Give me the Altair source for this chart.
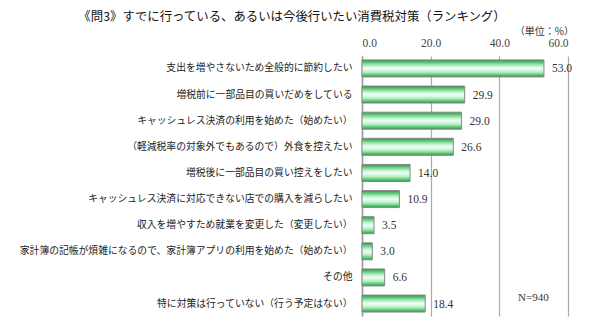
import altair as alt
import pandas as pd

categories = [
    "支出を増やさないため全般的に節約したい",
    "増税前に一部品目の買いだめをしている",
    "キャッシュレス決済の利用を始めた（始めたい）",
    "（軽減税率の対象外でもあるので）外食を控えたい",
    "増税後に一部品目の買い控えをしたい",
    "キャッシュレス決済に対応できない店での購入を減らしたい",
    "収入を増やすため就業を変更した（変更したい）",
    "家計簿の記帳が煩雑になるので、家計簿アプリの利用を始めた（始めたい）",
    "その他",
    "特に対策は行っていない（行う予定はない）",
]
values = [53.0, 29.9, 29.0, 26.6, 14.0, 10.9, 3.5, 3.0, 6.6, 18.4]
x_ticks = [0, 20, 40, 60]

df = pd.DataFrame({"cat": categories, "val": values})
df["lab"] = [f"{v:.1f}" for v in values]

JP = "Noto Sans CJK JP"
SERIF = "Liberation Serif"

grad = alt.Gradient(
    gradient="linear",
    x1=0, x2=0, y1=0, y2=1,
    stops=[
        alt.GradientStop(color="#2a9444", offset=0),
        alt.GradientStop(color="#5cc878", offset=0.15),
        alt.GradientStop(color="#bdf2cb", offset=0.35),
        alt.GradientStop(color="#f0fff4", offset=0.5),
        alt.GradientStop(color="#bdf2cb", offset=0.7),
        alt.GradientStop(color="#5cc878", offset=0.88),
        alt.GradientStop(color="#2a9444", offset=1),
    ],
)

y_enc = alt.Y(
    "cat:N",
    sort=categories,
    scale=alt.Scale(paddingInner=0.35, paddingOuter=0.15),
    axis=alt.Axis(
        title=None, orient="left", domain=True, domainColor="#999999",
        domainWidth=1.5, ticks=False, labelPadding=10, labelFont=JP,
        labelFontSize=9.8, labelColor="#222222", labelLimit=400,
    ),
)
x_enc = alt.X(
    "val:Q",
    scale=alt.Scale(domain=[0, 60], nice=False),
    axis=alt.Axis(
        title=None, orient="top", values=x_ticks, format=".1f",
        grid=True, gridColor="#aaaaaa", gridWidth=1.2, domain=False,
        ticks=False, labelFont=SERIF, labelFontSize=11.5,
        labelColor="#444444", labelPadding=8,
    ),
)

bars = alt.Chart(df).mark_bar(
    fill=grad, stroke="#888888", strokeWidth=1
).encode(x=x_enc, y=y_enc)

labels = alt.Chart(df).mark_text(
    align="left", baseline="middle", dx=8, dy=1, font=SERIF, fontSize=11.5,
    color="#333333",
).encode(x="val:Q", y=alt.Y("cat:N", sort=categories), text="lab:N")

title = alt.Chart(pd.DataFrame({"t": ["《問3》すでに行っている、あるいは今後行いたい消費税対策（ランキング）"]})).mark_text(
    align="center", baseline="middle", font=JP, fontSize=12.4, color="#111111"
).encode(x=alt.value(-70), y=alt.value(-39), text="t:N")

unit = alt.Chart(pd.DataFrame({"t": ["（単位：%）"]})).mark_text(
    align="right", baseline="middle", font=JP, fontSize=10, color="#333333"
).encode(x=alt.value(212), y=alt.value(-24), text="t:N")

nlab = alt.Chart(pd.DataFrame({"t": ["N=940"]})).mark_text(
    align="left", baseline="middle", font=SERIF, fontSize=11, color="#333333"
).encode(x=alt.value(156), y=alt.value(242), text="t:N")

chart = (
    alt.layer(bars, labels, title, unit, nlab)
    .properties(
        width=206,
        height=260,
        padding={"left": 362, "top": 56, "right": 32, "bottom": 10},
        autosize=alt.AutoSizeParams(type="none"),
    )
    .configure_view(stroke=None)
)

chart.save("out.html", embed_options={"renderer": "svg", "actions": False})
